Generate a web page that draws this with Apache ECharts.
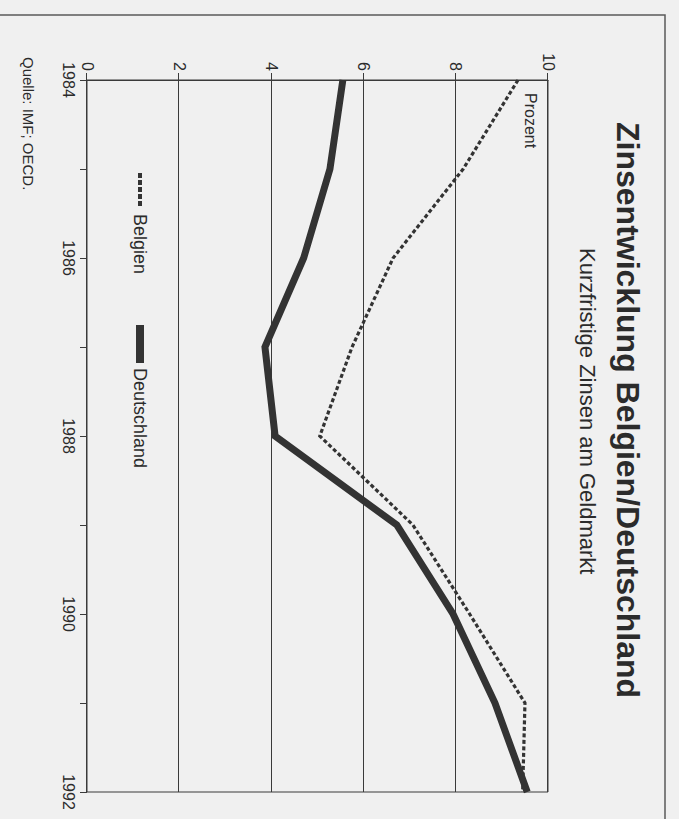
<!DOCTYPE html>
<html>
<head>
<meta charset="utf-8">
<script src="https://cdn.jsdelivr.net/npm/echarts@6/dist/echarts.min.js"></script>
<style>
  html, body { margin: 0; padding: 0; background: #f0f0f0; width: 679px; height: 819px; overflow: hidden; }
  #chart { position: absolute; left: 0; top: 0; width: 819px; height: 679px;
           transform-origin: 0 0; transform: translate(679px, 0) rotate(90deg); }
</style>
</head>
<body>
<div id="chart"></div>
<script>
const years = ['1984', '1985', '1986', '1987', '1988', '1989', '1990', '1991', '1992'];
const belgien = [9.35, 8.16, 6.64, 5.75, 5.05, 7.07, 8.3, 9.5, 9.45];
const deutschland = [5.55, 5.27, 4.7, 3.86, 4.08, 6.72, 7.94, 8.85, 9.55];
const valueTicks = { min: 0, max: 10, interval: 2 };
const titleText = 'Zinsentwicklung Belgien/Deutschland';
const subtitleText = 'Kurzfristige Zinsen am Geldmarkt';
const unitText = 'Prozent';
const sourceText = 'Quelle: IMF; OECD.';

const FONT = '"Liberation Sans", Arial, Helvetica, sans-serif';
const INK = '#2b2b2b';

const chart = echarts.init(document.getElementById('chart'), null, { renderer: 'svg' });
chart.setOption({
  backgroundColor: '#f0f0f0',
  animation: false,
  textStyle: { fontFamily: FONT, color: INK },
  title: [
    { text: titleText, left: 122, top: 35, padding: 0,
      textStyle: { fontFamily: FONT, fontSize: 32, fontWeight: 'bold', color: INK } },
    { text: subtitleText, left: 248, top: 81, padding: 0,
      textStyle: { fontFamily: FONT, fontSize: 22, fontWeight: 'normal', color: INK } },
    { text: unitText, left: 93, top: 141, padding: 0,
      textStyle: { fontFamily: FONT, fontSize: 16, fontWeight: 'normal', color: INK } },
    { text: sourceText, left: 57, top: 643, padding: 0,
      textStyle: { fontFamily: FONT, fontSize: 15, fontWeight: 'normal', color: INK } }
  ],
  graphic: [
    { type: 'rect', shape: { x: 15, y: 14, width: 900, height: 800 }, silent: true,
      style: { fill: 'none', stroke: '#5a5a5a', lineWidth: 1.5 } }
  ],
  legend: [
    { data: [{ name: 'Belgien', icon: 'path://M0,0h5v4h-5z M7,0h5v4h-5z M14,0h5v4h-5z M21,0h5v4h-5z M28,0h5v4h-5z' }],
      left: 173, top: 530, itemWidth: 39, itemHeight: 4, padding: 0,
      textStyle: { fontFamily: FONT, fontSize: 18, color: INK }, selectedMode: false },
    { data: [{ name: 'Deutschland', icon: 'rect' }],
      left: 325, top: 530, itemWidth: 38, itemHeight: 8, padding: 0,
      textStyle: { fontFamily: FONT, fontSize: 18, color: INK }, selectedMode: false }
  ],
  grid: { left: 80, right: 27, top: 131, bottom: 87, show: true, borderColor: '#3a3a3a', borderWidth: 1, backgroundColor: 'transparent' },
  xAxis: {
    type: 'category', data: years, boundaryGap: false,
    axisLine: { lineStyle: { color: '#3a3a3a', width: 1 } },
    axisTick: { show: true, interval: 0, length: 7, lineStyle: { color: '#3a3a3a' } },
    axisLabel: { interval: 1, margin: 11, fontFamily: FONT, fontSize: 16, color: INK },
    splitLine: { show: false }
  },
  yAxis: {
    type: 'value', min: valueTicks.min, max: valueTicks.max, interval: valueTicks.interval,
    axisLine: { show: true, lineStyle: { color: '#3a3a3a', width: 1 } },
    axisTick: { show: true, length: 7, lineStyle: { color: '#3a3a3a' } },
    axisLabel: { margin: 9, fontFamily: FONT, fontSize: 16, color: INK },
    splitLine: { show: true, lineStyle: { color: '#3a3a3a', width: 1 } }
  },
  series: [
    { name: 'Belgien', type: 'line', data: belgien, symbol: 'none', z: 3,
      lineStyle: { color: '#333', width: 3.2, type: [4, 2.5], cap: 'butt', join: 'miter' },
      itemStyle: { color: '#333' } },
    { name: 'Deutschland', type: 'line', data: deutschland, symbol: 'none', z: 4,
      lineStyle: { color: '#333', width: 7, type: 'solid', join: 'miter' },
      itemStyle: { color: '#333' } }
  ]
});
</script>
</body>
</html>
